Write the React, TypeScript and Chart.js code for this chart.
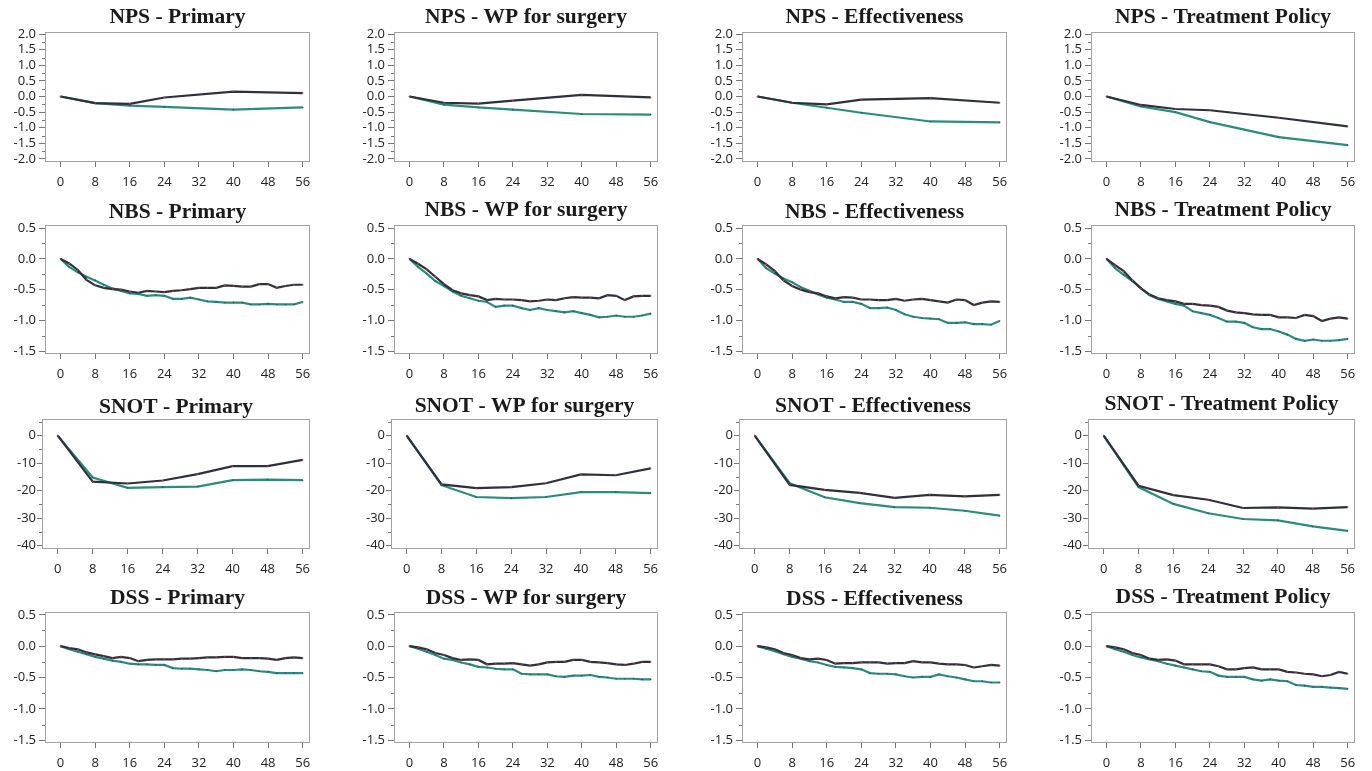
import React, { useEffect, useRef } from "react";
import { Chart, registerables } from "chart.js";
Chart.register(...registerables);

// ---------- data ----------
const weeksNPS = [0, 8, 16, 24, 40, 56];
const weeksSNOT = [0, 8, 16, 24, 32, 40, 48, 56];
const weeksBiweekly = [0, 2, 4, 6, 8, 10, 12, 14, 16, 18, 20, 22, 24, 26, 28, 30, 32, 34, 36, 38, 40, 42, 44, 46, 48, 50, 52, 54, 56];
const xTickValues = [0, 8, 16, 24, 32, 40, 48, 56];

const analyses = ["Primary", "WP for surgery", "Effectiveness", "Treatment Policy"];
const endpoints = ["NPS", "NBS", "SNOT", "DSS"];

const npsPrimaryDark = [0, -0.21, -0.235, -0.03, 0.16, 0.11];
const npsPrimaryTeal = [0, -0.21, -0.29, -0.33, -0.42, -0.35];
const npsWPDark = [0, -0.2, -0.23, -0.13, 0.05, -0.03];
const npsWPTeal = [0, -0.26, -0.35, -0.42, -0.56, -0.58];
const npsEffDark = [0, -0.2, -0.25, -0.1, -0.05, -0.2];
const npsEffTeal = [0, -0.2, -0.36, -0.52, -0.8, -0.83];
const npsTPDark = [0, -0.27, -0.4, -0.44, -0.68, -0.96];
const npsTPTeal = [0, -0.32, -0.5, -0.82, -1.3, -1.56];

const nbsPrimaryDark = [0, -0.075, -0.18, -0.34, -0.43, -0.47, -0.49, -0.5, -0.53, -0.55, -0.52, -0.53, -0.54, -0.52, -0.51, -0.49, -0.47, -0.47, -0.47, -0.43, -0.44, -0.45, -0.45, -0.41, -0.41, -0.47, -0.44, -0.42, -0.42];
const nbsPrimaryTeal = [0, -0.13, -0.22, -0.29, -0.35, -0.42, -0.48, -0.52, -0.56, -0.57, -0.6, -0.59, -0.6, -0.65, -0.65, -0.63, -0.66, -0.69, -0.7, -0.71, -0.71, -0.71, -0.74, -0.74, -0.73, -0.74, -0.74, -0.74, -0.7];
const nbsWPDark = [0, -0.08, -0.17, -0.29, -0.41, -0.51, -0.56, -0.59, -0.61, -0.67, -0.65, -0.66, -0.66, -0.67, -0.69, -0.68, -0.66, -0.67, -0.64, -0.62, -0.63, -0.63, -0.64, -0.59, -0.6, -0.67, -0.61, -0.6, -0.6];
const nbsWPTeal = [0, -0.13, -0.24, -0.36, -0.44, -0.53, -0.6, -0.64, -0.68, -0.7, -0.78, -0.76, -0.76, -0.8, -0.83, -0.8, -0.83, -0.85, -0.87, -0.85, -0.88, -0.91, -0.95, -0.94, -0.92, -0.94, -0.94, -0.92, -0.89];
const nbsEffDark = [0, -0.09, -0.2, -0.35, -0.44, -0.5, -0.54, -0.56, -0.61, -0.64, -0.62, -0.63, -0.66, -0.66, -0.67, -0.67, -0.65, -0.68, -0.66, -0.65, -0.67, -0.69, -0.71, -0.66, -0.67, -0.75, -0.71, -0.69, -0.7];
const nbsEffTeal = [0, -0.15, -0.24, -0.32, -0.38, -0.46, -0.52, -0.58, -0.63, -0.66, -0.7, -0.7, -0.73, -0.8, -0.8, -0.79, -0.83, -0.9, -0.94, -0.96, -0.97, -0.98, -1.04, -1.04, -1.03, -1.06, -1.06, -1.07, -1.01];
const nbsTPDark = [0, -0.1, -0.2, -0.35, -0.48, -0.58, -0.64, -0.67, -0.69, -0.73, -0.73, -0.75, -0.76, -0.78, -0.84, -0.87, -0.88, -0.9, -0.91, -0.91, -0.95, -0.95, -0.96, -0.91, -0.93, -1.01, -0.97, -0.95, -0.97];
const nbsTPTeal = [0, -0.15, -0.26, -0.36, -0.48, -0.59, -0.65, -0.69, -0.73, -0.76, -0.85, -0.88, -0.91, -0.96, -1.02, -1.02, -1.04, -1.11, -1.14, -1.14, -1.18, -1.23, -1.3, -1.33, -1.31, -1.33, -1.33, -1.32, -1.3];

const snotPrimaryDark = [0, -16.7, -17.4, -16.3, -14.0, -11.1, -11.1, -8.8];
const snotPrimaryTeal = [0, -15.2, -19.0, -18.7, -18.5, -16.2, -16.0, -16.2];
const snotWPDark = [0, -17.7, -19.1, -18.7, -17.3, -14.1, -14.4, -11.9];
const snotWPTeal = [0, -18.0, -22.3, -22.7, -22.3, -20.5, -20.5, -20.9];
const snotEffDark = [0, -17.9, -19.7, -20.8, -22.6, -21.5, -22.1, -21.5];
const snotEffTeal = [0, -17.3, -22.4, -24.5, -26.0, -26.2, -27.3, -29.1];
const snotTPDark = [0, -18.2, -21.6, -23.3, -26.3, -26.1, -26.5, -26.0];
const snotTPTeal = [0, -18.7, -24.8, -28.2, -30.3, -30.8, -33.0, -34.6];

const dssPrimaryDark = [0, -0.03, -0.05, -0.1, -0.13, -0.16, -0.19, -0.17, -0.19, -0.24, -0.22, -0.21, -0.21, -0.21, -0.2, -0.2, -0.19, -0.18, -0.18, -0.17, -0.17, -0.19, -0.19, -0.19, -0.2, -0.22, -0.19, -0.18, -0.19];
const dssPrimaryTeal = [0, -0.05, -0.09, -0.13, -0.17, -0.2, -0.23, -0.25, -0.28, -0.29, -0.29, -0.3, -0.3, -0.35, -0.36, -0.36, -0.37, -0.38, -0.4, -0.38, -0.38, -0.37, -0.38, -0.4, -0.41, -0.43, -0.43, -0.43, -0.43];
const dssWPDark = [0, -0.02, -0.05, -0.11, -0.14, -0.19, -0.22, -0.21, -0.22, -0.29, -0.28, -0.28, -0.27, -0.29, -0.31, -0.29, -0.26, -0.25, -0.25, -0.22, -0.22, -0.25, -0.26, -0.27, -0.29, -0.3, -0.28, -0.25, -0.25];
const dssWPTeal = [0, -0.04, -0.09, -0.14, -0.2, -0.22, -0.26, -0.29, -0.33, -0.34, -0.36, -0.37, -0.37, -0.44, -0.45, -0.45, -0.45, -0.48, -0.49, -0.47, -0.47, -0.46, -0.49, -0.5, -0.52, -0.52, -0.52, -0.53, -0.53];
const dssEffDark = [0, -0.02, -0.05, -0.11, -0.14, -0.19, -0.21, -0.2, -0.22, -0.28, -0.27, -0.27, -0.26, -0.26, -0.26, -0.28, -0.27, -0.27, -0.24, -0.26, -0.26, -0.28, -0.29, -0.29, -0.3, -0.34, -0.32, -0.3, -0.31];
const dssEffTeal = [0, -0.04, -0.08, -0.13, -0.17, -0.2, -0.24, -0.26, -0.3, -0.33, -0.34, -0.35, -0.37, -0.43, -0.44, -0.44, -0.45, -0.48, -0.5, -0.49, -0.49, -0.45, -0.48, -0.5, -0.53, -0.56, -0.56, -0.58, -0.58];
const dssTPDark = [0, -0.02, -0.05, -0.11, -0.14, -0.2, -0.22, -0.21, -0.23, -0.29, -0.29, -0.29, -0.29, -0.32, -0.37, -0.37, -0.35, -0.34, -0.37, -0.37, -0.37, -0.41, -0.42, -0.44, -0.45, -0.48, -0.46, -0.41, -0.44];
const dssTPTeal = [0, -0.05, -0.09, -0.14, -0.18, -0.21, -0.24, -0.28, -0.31, -0.34, -0.37, -0.4, -0.41, -0.47, -0.49, -0.49, -0.49, -0.53, -0.55, -0.53, -0.55, -0.56, -0.62, -0.63, -0.65, -0.65, -0.66, -0.67, -0.68];

const npsYTicks = [-2, -1.5, -1, -0.5, 0, 0.5, 1, 1.5, 2];
const npsYMinor = [-1.75, -1.25, -0.75, -0.25, 0.25, 0.75, 1.25, 1.75];
const smallYTicks = [-1.5, -1, -0.5, 0, 0.5];
const smallYMinor = [-1.25, -0.75, -0.25, 0.25];
const snotYTicks = [-40, -30, -20, -10, 0];
const snotYMinor = [-35, -25, -15, -5, 5];

// ---------- layout / style ----------
const DARK = "#2e303c";
const TEAL = "#2a8d79";
const boxLefts = [45, 394, 742, 1091];
const boxRights = [310, 658, 1007, 1355];
const boxTops = [32, 225, 419, 612];
const boxBottoms = [162, 354, 549, 743];
const titleBaselines = [
  [23, 23, 23, 23],
  [218, 216, 218, 216],
  [413, 412, 412, 410],
  [604, 604, 605, 603],
];
const PAD_TOP = 32;
const PAD_RIGHT = 14;
const X_AXIS_H = 30;

type RowCfg = {
  weeks: number[];
  dark: number[][];
  teal: number[][];
  yMin: number;
  yMax: number;
  yTicks: number[];
  yMinor: number[];
  decimals: number;
  axisW: number;
  tickLen: number;
  tickPad: number;
};

const rows: RowCfg[] = [
  { weeks: weeksNPS, dark: [npsPrimaryDark, npsWPDark, npsEffDark, npsTPDark], teal: [npsPrimaryTeal, npsWPTeal, npsEffTeal, npsTPTeal], yMin: -2.1, yMax: 2.07, yTicks: npsYTicks, yMinor: npsYMinor, decimals: 1, axisW: 45, tickLen: 6, tickPad: 3 },
  { weeks: weeksBiweekly, dark: [nbsPrimaryDark, nbsWPDark, nbsEffDark, nbsTPDark], teal: [nbsPrimaryTeal, nbsWPTeal, nbsEffTeal, nbsTPTeal], yMin: -1.545, yMax: 0.55, yTicks: smallYTicks, yMinor: smallYMinor, decimals: 1, axisW: 45, tickLen: 6, tickPad: 3 },
  { weeks: weeksSNOT, dark: [snotPrimaryDark, snotWPDark, snotEffDark, snotTPDark], teal: [snotPrimaryTeal, snotWPTeal, snotEffTeal, snotTPTeal], yMin: -41.2, yMax: 6.05, yTicks: snotYTicks, yMinor: snotYMinor, decimals: 0, axisW: 42, tickLen: 5, tickPad: 1 },
  { weeks: weeksBiweekly, dark: [dssPrimaryDark, dssWPDark, dssEffDark, dssTPDark], teal: [dssPrimaryTeal, dssWPTeal, dssEffTeal, dssTPTeal], yMin: -1.545, yMax: 0.545, yTicks: smallYTicks, yMinor: smallYMinor, decimals: 1, axisW: 45, tickLen: 6, tickPad: 3 },
];

const tickFont = { family: "'Open Sans', sans-serif", size: 13 };

function Panel({ r, c }: { r: number; c: number }) {
  const ref = useRef<HTMLCanvasElement>(null);
  const row = rows[r];
  const boxLeft = r === 2 ? boxLefts[c] - 3 : boxLefts[c];
  const left = boxLeft - row.axisW;
  const top = boxTops[r] - PAD_TOP;
  const width = boxRights[c] - left + PAD_RIGHT;
  const height = boxBottoms[r] - top + X_AXIS_H;
  const title = `${endpoints[r]} - ${analyses[c]}`;
  const titleY = titleBaselines[r][c] - top;

  useEffect(() => {
    const decorations = {
      id: "decorations",
      afterDraw(chart: any) {
        const { ctx, chartArea, scales } = chart;
        ctx.save();
        // frame
        ctx.strokeStyle = "#a3a3a3";
        ctx.lineWidth = 1;
        ctx.strokeRect(chartArea.left + 0.5, chartArea.top + 0.5, chartArea.right - chartArea.left - 1, chartArea.bottom - chartArea.top - 1);
        // minor ticks
        ctx.strokeStyle = "#777";
        ctx.beginPath();
        row.yMinor.forEach((v) => {
          if (v < row.yMin || v > row.yMax) return;
          const y = Math.round(scales.y.getPixelForValue(v)) + 0.5;
          ctx.moveTo(chartArea.left - 3, y);
          ctx.lineTo(chartArea.left, y);
        });
        ctx.stroke();
        // title
        ctx.fillStyle = "#1a1a1a";
        ctx.font = "bold 21.5px 'Liberation Serif', serif";
        ctx.textAlign = "center";
        ctx.textBaseline = "alphabetic";
        ctx.fillText(title, (chartArea.left + chartArea.right) / 2, titleY);
        ctx.restore();
      },
    };

    const chart = new Chart(ref.current as HTMLCanvasElement, {
      type: "line",
      data: {
        datasets: [
          {
            data: row.weeks.map((w, i) => ({ x: w, y: row.dark[c][i] })),
            borderColor: DARK,
            borderWidth: 2.2,
            pointRadius: 0.8,
            pointBorderWidth: 0,
            pointBackgroundColor: "#b8433f",
            tension: 0,
          },
          {
            data: row.weeks.map((w, i) => ({ x: w, y: row.teal[c][i] })),
            borderColor: TEAL,
            borderWidth: 2.2,
            pointRadius: 0.8,
            pointBorderWidth: 0,
            pointBackgroundColor: "#34449a",
            tension: 0,
          },
        ],
      },
      options: {
        responsive: false,
        animation: false,
        events: [],
        layout: { padding: { top: PAD_TOP, right: PAD_RIGHT, left: 0, bottom: 0 } },
        plugins: { legend: { display: false }, tooltip: { enabled: false }, title: { display: false } },
        scales: {
          x: {
            type: "linear",
            min: -3.6,
            max: 57.7,
            afterBuildTicks: (axis: any) => {
              axis.ticks = xTickValues.map((v) => ({ value: v }));
            },
            afterFit: (axis: any) => {
              axis.height = X_AXIS_H;
            },
            grid: { drawOnChartArea: false, drawTicks: true, tickLength: 5, color: "#777" },
            border: { display: false },
            ticks: { font: tickFont, color: "#222", padding: 7, maxRotation: 0, autoSkip: false, callback: (v: any) => String(v) },
          },
          y: {
            type: "linear",
            min: row.yMin,
            max: row.yMax,
            afterBuildTicks: (axis: any) => {
              axis.ticks = row.yTicks.map((v) => ({ value: v }));
            },
            afterFit: (axis: any) => {
              axis.width = row.axisW;
            },
            grid: { drawOnChartArea: false, drawTicks: true, tickLength: row.tickLen, color: "#777" },
            border: { display: false },
            ticks: { font: tickFont, color: "#222", padding: row.tickPad, autoSkip: false, callback: (v: any) => Number(v).toFixed(row.decimals) },
          },
        },
      },
      plugins: [decorations],
    } as any);
    return () => chart.destroy();
  }, []);

  return (
    <canvas
      ref={ref}
      width={width}
      height={height}
      style={{ position: "absolute", left, top, width, height }}
    />
  );
}

export default function App() {
  const panels = [];
  for (let r = 0; r < 4; r++) for (let c = 0; c < 4; c++) panels.push(<Panel key={`${r}-${c}`} r={r} c={c} />);
  return (
    <div style={{ position: "absolute", left: 0, top: 0, width: 1372, height: 771, background: "#fff", overflow: "hidden" }}>
      {panels}
    </div>
  );
}
